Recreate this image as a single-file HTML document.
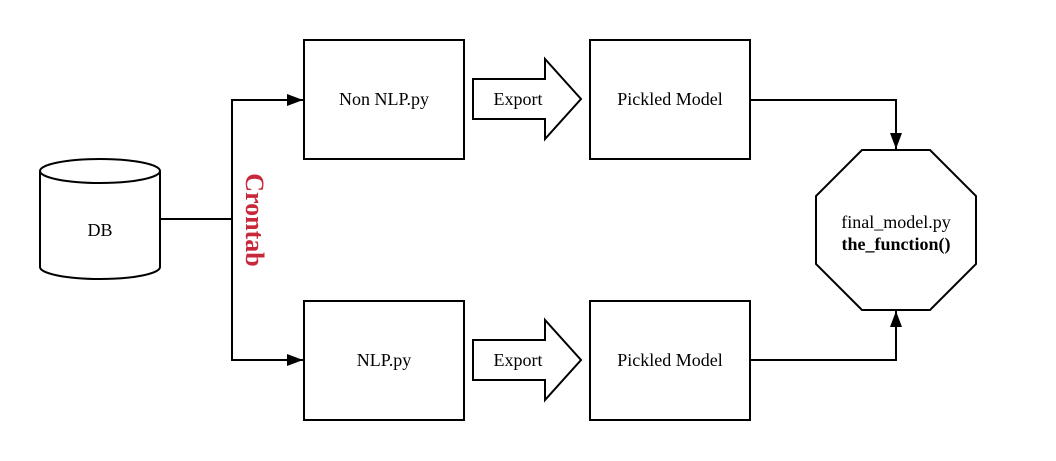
<!DOCTYPE html>
<html><head><meta charset="utf-8"><style>
html,body{margin:0;padding:0;background:#fff;}
svg{display:block;}
text{font-family:"Liberation Serif",serif;font-size:18px;fill:#000;}
</style></head><body>
<svg width="1056" height="461" viewBox="0 0 1056 461" xmlns="http://www.w3.org/2000/svg">
<defs>
<marker id="a" markerWidth="16" markerHeight="12" refX="16" refY="6" orient="auto" markerUnits="userSpaceOnUse">
<path d="M0,0 L16,6 L0,12 z" fill="#000"/></marker>
</defs>
<g stroke="#000" stroke-width="2" fill="#fff">
<path d="M40,171 L40,267 A60,12 0 0 0 160,267 L160,171"/>
<ellipse cx="100" cy="171" rx="60" ry="12"/>
<rect x="304" y="40" width="160" height="119"/>
<rect x="590" y="40" width="160" height="119"/>
<rect x="304" y="301" width="160" height="119"/>
<rect x="590" y="301" width="160" height="119"/>
<path d="M473,79 L545,79 L545,59 L581,99 L545,139 L545,119 L473,119 Z"/>
<path d="M473,340 L545,340 L545,320 L581,360 L545,400 L545,380 L473,380 Z"/>
<path d="M862,150 L930,150 L976,196 L976,264 L930,310 L862,310 L816,264 L816,196 Z"/>
</g>
<g stroke="#000" stroke-width="2" fill="none">
<path d="M160,219 L232,219"/>
<path d="M232,219 L232,100 L303,100" marker-end="url(#a)"/>
<path d="M232,219 L232,360 L303,360" marker-end="url(#a)"/>
<path d="M750,100 L896,100 L896,149" marker-end="url(#a)"/>
<path d="M750,360 L896,360 L896,311" marker-end="url(#a)"/>
</g>
<text x="100" y="236" text-anchor="middle">DB</text>
<text x="384" y="105" text-anchor="middle">Non NLP.py</text>
<text x="670" y="105" text-anchor="middle">Pickled Model</text>
<text x="384" y="366" text-anchor="middle">NLP.py</text>
<text x="670" y="366" text-anchor="middle">Pickled Model</text>
<text x="518" y="105" text-anchor="middle">Export</text>
<text x="518" y="366" text-anchor="middle">Export</text>
<text x="896" y="228" text-anchor="middle">final_model.py</text>
<text x="896" y="250" text-anchor="middle" font-weight="bold">the_function()</text>
<text transform="translate(246,220) rotate(90)" text-anchor="middle" style="font-size:26px;font-weight:bold;fill:#c7283a">Crontab</text>
</svg>
</body></html>
